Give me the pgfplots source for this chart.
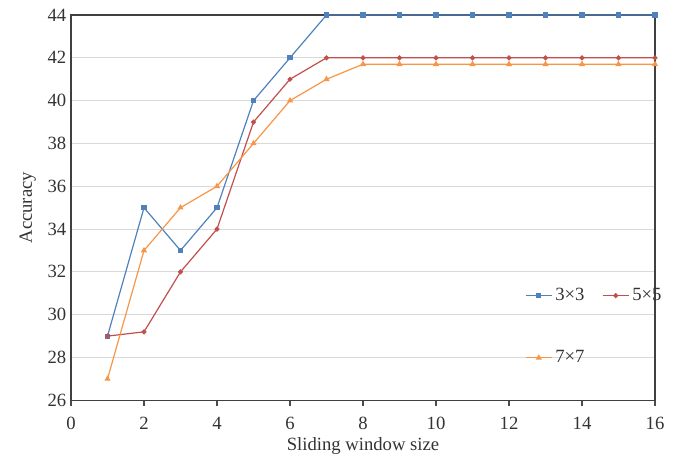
\documentclass[border=0pt]{standalone}
\usepackage{pgfplots}
\pgfplotsset{compat=1.18}
\usepackage{fontspec}
\setmainfont{Liberation Serif}
\definecolor{cblue}{RGB}{79,129,189}
\definecolor{cred}{RGB}{192,80,77}
\definecolor{corange}{RGB}{247,150,70}
\begin{document}
\begin{tikzpicture}
\begin{axis}[
    scale only axis,
    width=438pt,
    height=289pt,
    xmin=0, xmax=16,
    ymin=26, ymax=44,
    xtick={0,2,...,16},
    ytick={26,28,...,44},
    xtick pos=bottom,
    ytick pos=left,
    xtick align=outside,
    major y tick style={draw=none},
    major x tick style={black!70, thick},
    major tick length=4pt,
    ymajorgrids,
    grid style={black!15, line width=0.8pt},
    axis line style={black!75, line width=0.9pt},
    tick label style={font=\fontsize{14}{16}\selectfont, black!80},
    xticklabel style={yshift=-5pt},
    label style={font=\fontsize{14}{16}\selectfont, black!80},
    /pgf/number format/assume math mode=true,
    xlabel={Sliding window size},
    ylabel={Accuracy},
    xlabel style={yshift=1pt},
    ylabel style={yshift=2pt},
    clip=false,
    legend columns=2,
    legend style={draw=none, fill=none, at={(rel axis cs:0.77,0.305)}, anchor=north west,
        font=\fontsize{14}{16}\selectfont, text=black!80,
        /tikz/every even column/.append style={column sep=11pt},
        row sep=32pt},
    legend image code/.code={\draw[mark repeat=2,mark phase=2] plot coordinates {(0cm,0cm)(0.35cm,0cm)(0.7cm,0cm)};},
]
\addplot[color=cblue, line width=0.9pt, mark=square*, mark size=1.5pt] coordinates {
    (1,29) (2,35) (3,33) (4,35) (5,40) (6,42) (7,44) (8,44) (9,44) (10,44)
    (11,44) (12,44) (13,44) (14,44) (15,44) (16,44)
};
\addlegendentry{3×3}
\addplot[color=cred, line width=0.9pt, mark=*, mark size=1.4pt] coordinates {
    (1,29) (2,29.2) (3,32) (4,34) (5,39) (6,41) (7,42) (8,42) (9,42) (10,42)
    (11,42) (12,42) (13,42) (14,42) (15,42) (16,42)
};
\addlegendentry{5×5}
\addplot[color=corange, line width=0.9pt, mark=triangle*, mark size=1.8pt] coordinates {
    (1,27) (2,33) (3,35) (4,36) (5,38) (6,40) (7,41) (8,41.7) (9,41.7) (10,41.7)
    (11,41.7) (12,41.7) (13,41.7) (14,41.7) (15,41.7) (16,41.7)
};
\addlegendentry{7×7}
\coordinate (sw) at (rel axis cs:0,0);
\coordinate (ne) at (rel axis cs:1,1);
\end{axis}
\path[use as bounding box] ([xshift=-53.25pt,yshift=-43.5pt]sw) rectangle ([xshift=19.5pt,yshift=11.25pt]ne);
\end{tikzpicture}
\end{document}
